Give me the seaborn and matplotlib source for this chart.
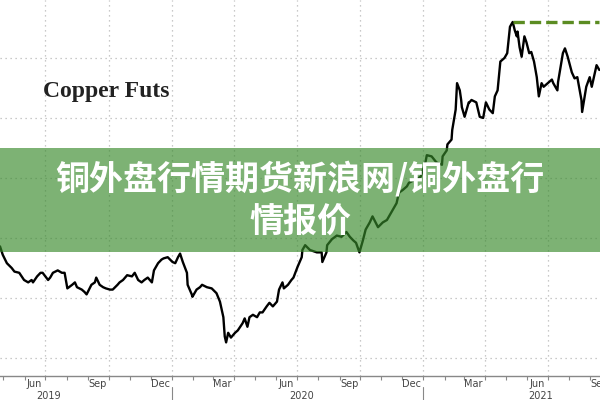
import pandas as pd
import matplotlib
matplotlib.use("Agg")
import matplotlib.pyplot as plt
import matplotlib.dates as mdates
from matplotlib.patches import Rectangle
from matplotlib.ticker import NullFormatter
import seaborn as sns

# copper futures
dates = [
    "2019-04-26", "2019-04-30", "2019-05-06", "2019-05-13", "2019-05-17", "2019-05-24",
    "2019-05-31", "2019-06-06", "2019-06-11", "2019-06-13", "2019-06-19", "2019-06-24",
    "2019-06-27", "2019-07-05", "2019-07-08", "2019-07-12", "2019-07-19", "2019-07-25",
    "2019-07-29", "2019-08-02", "2019-08-09", "2019-08-13", "2019-08-16", "2019-08-23",
    "2019-08-27", "2019-08-30", "2019-09-06", "2019-09-11", "2019-09-13", "2019-09-18",
    "2019-09-23", "2019-09-27", "2019-10-03", "2019-10-07", "2019-10-14", "2019-10-17",
    "2019-10-22", "2019-10-28", "2019-11-04", "2019-11-08", "2019-11-13", "2019-11-18",
    "2019-11-22", "2019-11-27", "2019-12-03", "2019-12-06", "2019-12-12", "2019-12-17",
    "2019-12-20", "2019-12-26", "2020-01-02", "2020-01-06", "2020-01-10", "2020-01-13",
    "2020-01-17", "2020-01-23", "2020-01-24", "2020-01-30", "2020-01-31", "2020-02-06",
    "2020-02-11", "2020-02-14", "2020-02-21", "2020-02-28", "2020-03-06", "2020-03-11",
    "2020-03-16", "2020-03-18", "2020-03-20", "2020-03-23", "2020-03-27", "2020-04-02",
    "2020-04-06", "2020-04-13", "2020-04-16", "2020-04-20", "2020-04-23", "2020-04-28",
    "2020-05-04", "2020-05-08", "2020-05-12", "2020-05-18", "2020-05-22", "2020-05-27",
    "2020-06-02", "2020-06-05", "2020-06-10", "2020-06-12", "2020-06-18", "2020-06-23",
    "2020-06-26", "2020-07-02", "2020-07-08", "2020-07-09", "2020-07-13", "2020-07-20",
    "2020-07-30", "2020-08-06", "2020-08-07", "2020-08-13", "2020-08-14", "2020-08-21",
    "2020-08-28", "2020-09-04", "2020-09-11", "2020-09-16", "2020-09-21", "2020-09-25",
    "2020-09-30", "2020-10-05", "2020-10-09", "2020-10-15", "2020-10-19", "2020-10-27",
    "2020-11-03", "2020-11-09", "2020-11-13", "2020-11-17", "2020-11-23", "2020-11-25",
    "2020-11-27", "2020-12-02", "2020-12-08", "2020-12-11", "2020-12-18", "2020-12-28",
    "2021-01-04", "2021-01-06", "2021-01-13", "2021-01-20", "2021-01-28", "2021-01-29",
    "2021-02-04", "2021-02-05", "2021-02-11", "2021-02-12", "2021-02-17", "2021-02-19",
    "2021-02-23", "2021-02-25", "2021-02-26", "2021-03-02", "2021-03-05", "2021-03-08",
    "2021-03-09", "2021-03-12", "2021-03-19", "2021-03-24", "2021-03-29", "2021-04-02",
    "2021-04-07", "2021-04-12", "2021-04-15", "2021-04-19", "2021-04-23", "2021-04-29",
    "2021-05-03", "2021-05-05", "2021-05-07", "2021-05-11", "2021-05-14", "2021-05-17",
    "2021-05-18", "2021-05-21", "2021-05-24", "2021-05-28", "2021-05-31", "2021-06-04",
    "2021-06-07", "2021-06-09", "2021-06-11", "2021-06-15", "2021-06-18", "2021-06-22",
    "2021-06-25", "2021-07-01", "2021-07-07", "2021-07-09", "2021-07-15", "2021-07-16",
    "2021-07-23", "2021-07-26", "2021-07-30", "2021-08-05", "2021-08-09", "2021-08-13",
    "2021-08-19", "2021-08-20", "2021-08-26", "2021-08-31", "2021-09-03", "2021-09-10",
    "2021-09-14",
]
prices = [
    2.93, 2.86, 2.79, 2.75, 2.72, 2.71,
    2.65, 2.63, 2.65, 2.63, 2.68, 2.71,
    2.71, 2.65, 2.67, 2.71, 2.73, 2.71,
    2.71, 2.58, 2.61, 2.63, 2.59, 2.57,
    2.55, 2.53, 2.61, 2.63, 2.67, 2.61,
    2.59, 2.58, 2.57, 2.57, 2.61, 2.63,
    2.65, 2.69, 2.68, 2.71, 2.65, 2.63,
    2.65, 2.67, 2.63, 2.73, 2.79, 2.82,
    2.83, 2.84, 2.80, 2.79, 2.84, 2.87,
    2.80, 2.71, 2.61, 2.53, 2.51, 2.57,
    2.59, 2.61, 2.59, 2.58, 2.54, 2.47,
    2.34, 2.18, 2.13, 2.21, 2.17, 2.21,
    2.23, 2.29, 2.33, 2.26, 2.34, 2.36,
    2.34, 2.38, 2.38, 2.43, 2.46, 2.43,
    2.47, 2.57, 2.63, 2.58, 2.61, 2.65,
    2.67, 2.76, 2.84, 2.90, 2.94, 2.90,
    2.88, 2.88, 2.80, 2.88, 2.94, 2.99,
    3.02, 3.01, 3.05, 3.01, 2.98, 2.96,
    2.88, 2.98, 3.07, 3.13, 3.18, 3.09,
    3.13, 3.15, 3.19, 3.23, 3.29, 3.34,
    3.38, 3.40, 3.43, 3.46, 3.48, 3.51,
    3.63, 3.69, 3.68, 3.63, 3.61, 3.68,
    3.73, 3.78, 3.82, 3.90, 4.07, 4.29,
    4.23, 4.15, 4.09, 4.01, 4.07, 4.13,
    4.13, 4.15, 4.13, 4.01, 4.00, 4.13,
    4.07, 4.04, 4.18, 4.23, 4.47, 4.50,
    4.54, 4.65, 4.76, 4.80, 4.73, 4.68,
    4.72, 4.59, 4.51, 4.68, 4.63, 4.54,
    4.55, 4.51, 4.47, 4.34, 4.18, 4.29,
    4.26, 4.29, 4.32, 4.29, 4.23, 4.30,
    4.54, 4.58, 4.51, 4.38, 4.33, 4.34,
    4.15, 4.05, 4.26, 4.34, 4.26, 4.44,
    4.40,
]

month_labels = ["Jun", "Sep", "Dec", "Mar", "Jun", "Sep", "Dec", "Mar", "Jun", "Sep"]
month_label_dates = ["2019-06-15", "2019-09-15", "2019-12-15", "2020-03-15", "2020-06-15",
                     "2020-09-15", "2020-12-15", "2021-03-15", "2021-06-15", "2021-09-15"]
year_labels = ["2019", "2020", "2021"]
year_label_dates = ["2019-07-06", "2020-07-08", "2021-06-20"]
year_breaks = ["2020-01-01", "2021-01-01"]
quarter_lines = ["2019-07-01", "2019-10-01", "2020-01-01", "2020-04-01", "2020-07-01",
                 "2020-10-01", "2021-01-01", "2021-04-01", "2021-07-01"]
grid_levels = [2.0, 2.5, 3.0, 3.5, 4.0, 4.5]
x_start, x_end = "2019-04-26", "2021-09-14"

title = "Copper Futs"
banner_line1 = "铜外盘行情期货新浪网/铜外盘行"
banner_line2 = "情报价"

df = pd.DataFrame({"date": pd.to_datetime(dates), "price": prices})

sns.set_theme(style="white")
plt.rcParams["font.family"] = ["DejaVu Sans"]

fig = plt.figure(figsize=(6, 4), dpi=100)
ax = fig.add_axes([0, 0.06, 1, 0.94])

# dotted grid
for lvl in grid_levels:
    ax.axhline(lvl, color="#b8b8b8", lw=0.9, ls=(0, (1, 3)), zorder=0)
for q in pd.to_datetime(quarter_lines):
    ax.axvline(q, color="#b8b8b8", lw=0.9, ls=(0, (1, 3)), zorder=0)

sns.lineplot(data=df, x="date", y="price", ax=ax, color="black", linewidth=1.7, zorder=3)

# dashed line at the peak
peak = df.loc[df["price"].idxmax()]
peak_df = pd.DataFrame({"date": [peak["date"], pd.Timestamp(x_end)],
                        "price": [peak["price"], peak["price"]]})
sns.lineplot(data=peak_df, x="date", y="price", ax=ax, color="#5b8c22",
             linewidth=2.4, linestyle=(0, (3.4, 1.5)), zorder=4)

ax.set_xlim(pd.Timestamp(x_start), pd.Timestamp(x_end))
ax.set_ylim(1.85, 4.983)
ax.set_xlabel("")
ax.set_ylabel("")
ax.set_yticks([])

ax.xaxis.set_major_locator(mdates.MonthLocator())
ax.xaxis.set_major_formatter(NullFormatter())
ax.set_xticks(pd.to_datetime(month_label_dates), minor=True)
ax.set_xticklabels(month_labels, minor=True)
ax.tick_params(axis="x", which="major", bottom=True, length=3, width=0.8, color="#888888")
ax.tick_params(axis="x", which="minor", bottom=True, length=0, labelsize=7, colors="#444444", pad=2)

for s in ["left", "top", "right"]:
    ax.spines[s].set_visible(False)
ax.spines["bottom"].set_color("#888888")
ax.spines["bottom"].set_linewidth(1)

trans = ax.get_xaxis_transform()
for lab, d in zip(year_labels, pd.to_datetime(year_label_dates)):
    ax.text(d, -0.052, lab, transform=trans, ha="center", va="center", fontsize=7, color="#444444")
for d in pd.to_datetime(year_breaks):
    ax.axvline(d, ymin=-0.064, ymax=-0.029, color="#888888", lw=0.8, clip_on=False)

fig.text(43 / 600, 1 - 97 / 400, title, family="Liberation Serif", weight="bold",
         fontsize=17, color="#222222", va="baseline")

# green banner over the chart
fig.add_artist(Rectangle((0, 0.37), 1, 0.26, transform=fig.transFigure,
                         facecolor="#37892a", alpha=0.65, lw=0, zorder=5))
cjk = ["Noto Sans CJK SC", "DejaVu Sans"]
fig.text(0.5, 1 - 179 / 400, banner_line1, ha="center", va="center", color="white",
         fontsize=24.5, weight="heavy", family=cjk, zorder=6)
fig.text(0.5, 1 - 221 / 400, banner_line2, ha="center", va="center", color="white",
         fontsize=24.5, weight="heavy", family=cjk, zorder=6)

fig.savefig("out.png", dpi=100)
